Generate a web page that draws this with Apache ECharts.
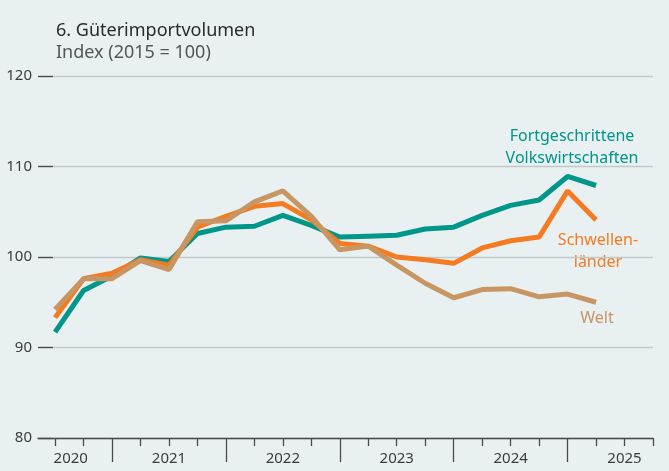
<!DOCTYPE html>
<html>
<head>
<meta charset="utf-8">
<script src="https://cdn.jsdelivr.net/npm/echarts@6/dist/echarts.min.js"></script>
<style>
  html, body { margin: 0; padding: 0; background: #e8f0f1; }
  #chart { width: 669px; height: 471px; }
</style>
</head>
<body>
<div id="chart"></div>
<script>
  // Quartale (2020Q3 bis 2025Q2)
  const quarters = ['2020Q3','2020Q4','2021Q1','2021Q2','2021Q3','2021Q4','2022Q1','2022Q2','2022Q3','2022Q4',
                    '2023Q1','2023Q2','2023Q3','2023Q4','2024Q1','2024Q2','2024Q3','2024Q4','2025Q1','2025Q2'];
  const fortgeschrittene = [91.7, 96.3, 97.9, 99.9, 99.5, 102.6, 103.3, 103.4, 104.6, 103.5,
                            102.2, 102.3, 102.4, 103.1, 103.3, 104.6, 105.7, 106.3, 108.9, 107.9];
  const schwellen = [93.3, 97.6, 98.2, 99.7, 99.1, 103.3, 104.5, 105.6, 105.9, 104.1,
                     101.5, 101.2, 100.0, 99.7, 99.3, 101.0, 101.8, 102.2, 107.3, 104.1];
  const welt = [94.2, 97.6, 97.6, 99.6, 98.6, 103.9, 104.0, 106.1, 107.3, 104.5,
                100.8, 101.2, 99.1, 97.1, 95.5, 96.4, 96.5, 95.6, 95.9, 95.0];
  const yearLabels = ['2020','2021','2022','2023','2024','2025'];
  const yTicks = [80, 90, 100, 110, 120];

  // Quartal -> Position auf der Zeitachse (0 = 2020Q1)
  const toQ = s => (parseInt(s.slice(0, 4)) - 2020) * 4 + parseInt(s.slice(5)) - 1;
  const pairs = vals => quarters.map((q, i) => [toQ(q), vals[i]]);

  const qMin = 1.4, qMax = 23;
  const majorTicks = [4, 8, 12, 16, 20];
  const minorTicks = [];
  for (let q = 2; q <= 23; q++) if (q % 4 !== 0) minorTicks.push(q);
  const labelPos = [2.55, 6, 10, 14, 18, 22];

  const font = 'Noto Sans';
  const textCol = '#3c3c3c';

  const myChart = echarts.init(document.getElementById('chart'));
  const options = {
    backgroundColor: '#e8f0f1',
    animation: false,
    textStyle: { fontFamily: font },
    title: [
      { text: '6. Güterimportvolumen', left: 56, top: 22, padding: 0,
        textStyle: { fontFamily: font, fontSize: 18, fontWeight: 'normal', color: '#2a2a2a' } },
      { text: 'Index (2015 = 100)', left: 56, top: 44, padding: 0,
        textStyle: { fontFamily: font, fontSize: 18, fontWeight: 'normal', color: '#555' } }
    ],
    grid: { left: 38, right: 16, top: 76, bottom: 33, containLabel: false },
    xAxis: [
      {
        type: 'value', min: qMin, max: qMax, position: 'bottom',
        splitLine: { show: false },
        axisLine: { show: true, onZero: false, lineStyle: { color: '#4a4a4a', width: 1.3 } },
        axisTick: { show: true, length: 24, customValues: majorTicks, lineStyle: { color: '#4a4a4a', width: 1.3 } },
        axisLabel: {
          show: true, customValues: labelPos, margin: 13, fontSize: 15, color: textCol, fontFamily: font,
          formatter: v => yearLabels[Math.floor(v / 4)]
        }
      },
      {
        type: 'value', min: qMin, max: qMax, position: 'bottom',
        splitLine: { show: false },
        axisLine: { show: false },
        axisTick: { show: true, length: 8, customValues: minorTicks, lineStyle: { color: '#4a4a4a', width: 1.3 } },
        axisLabel: { show: false }
      }
    ],
    yAxis: {
      type: 'value', min: 80, max: 120, interval: 10,
      axisLine: { show: false },
      axisTick: { show: true, inside: true, length: 15, customValues: yTicks, lineStyle: { color: '#4a4a4a', width: 1.3 } },
      splitLine: { show: true, lineStyle: { color: '#c3c9cb', width: 1.3 } },
      axisLabel: { margin: 6, fontSize: 15, color: textCol, fontFamily: font }
    },
    series: [
      { name: 'Fortgeschrittene Volkswirtschaften', type: 'line', data: pairs(fortgeschrittene),
        symbol: 'none', lineStyle: { color: '#00968a', width: 5 }, z: 2 },
      { name: 'Schwellenländer', type: 'line', data: pairs(schwellen),
        symbol: 'none', lineStyle: { color: '#f47b22', width: 5 }, z: 3 },
      { name: 'Welt', type: 'line', data: pairs(welt),
        symbol: 'none', lineStyle: { color: '#c89662', width: 5 }, z: 4 }
    ],
    graphic: [
      { type: 'text', x: 572, y: 125, style: { text: 'Fortgeschrittene\nVolkswirtschaften', align: 'center',
        fill: '#00968a', font: '16px "Noto Sans"', lineHeight: 22 } },
      { type: 'text', x: 598, y: 229, style: { text: 'Schwellen-\nländer', align: 'center',
        fill: '#f47b22', font: '16px "Noto Sans"', lineHeight: 22 } },
      { type: 'text', x: 597, y: 307, style: { text: 'Welt', align: 'center',
        fill: '#c89662', font: '16px "Noto Sans"', lineHeight: 22 } }
    ]
  };
  myChart.setOption(options);
</script>
</body>
</html>
